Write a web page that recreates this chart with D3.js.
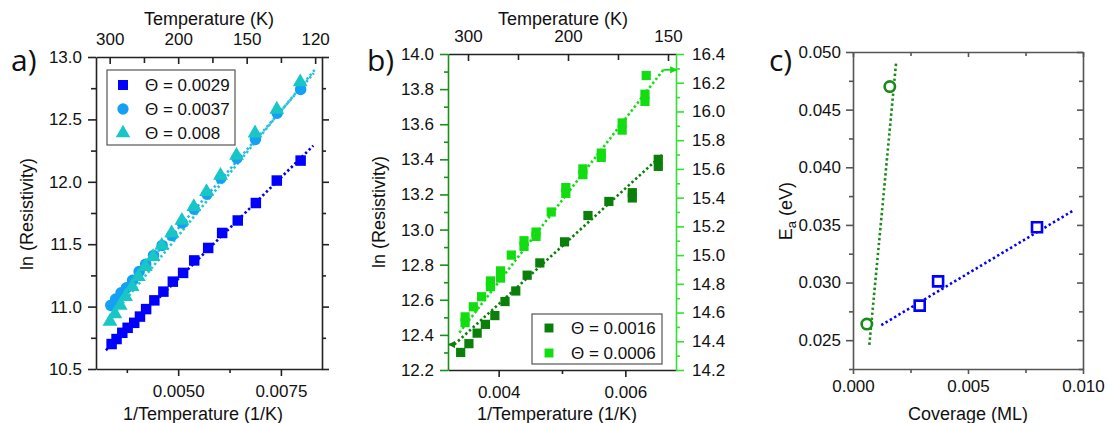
<!DOCTYPE html>
<html>
<head>
<meta charset="utf-8">
<script src="https://cdn.jsdelivr.net/npm/d3@7"></script>
<style>
  body { margin: 0; background: #fff; }
  svg { display: block; }
</style>
</head>
<body>
<svg id="fig" width="1108" height="423"></svg>
<script>
// ---------- panel a: ln(resistivity) vs 1/T ----------
const aBlueX = [0.00338, 0.00350, 0.00364, 0.00377, 0.00393, 0.00407, 0.00422, 0.00442, 0.00464, 0.00487, 0.00512, 0.00539, 0.00573, 0.00607, 0.00645, 0.00689, 0.00740, 0.00798];
const aBlueY = [10.70, 10.74, 10.79, 10.83, 10.87, 10.92, 10.98, 11.05, 11.12, 11.20, 11.27, 11.37, 11.47, 11.59, 11.69, 11.83, 12.01, 12.17];
const aCircX = [0.00336, 0.00348, 0.00361, 0.00374, 0.00389, 0.00405, 0.00421, 0.00440, 0.00461, 0.00485, 0.00510, 0.00539, 0.00570, 0.00604, 0.00643, 0.00688, 0.00741, 0.00798];
const aCircY = [11.01, 11.06, 11.11, 11.15, 11.21, 11.28, 11.34, 11.41, 11.49, 11.57, 11.67, 11.78, 11.90, 12.03, 12.19, 12.34, 12.55, 12.74];
const aTriX = [0.00334, 0.00346, 0.00359, 0.00372, 0.00388, 0.00403, 0.00420, 0.00439, 0.00460, 0.00484, 0.00509, 0.00538, 0.00569, 0.00603, 0.00642, 0.00687, 0.00740, 0.00797];
const aTriY = [10.88, 10.94, 11.01, 11.08, 11.16, 11.24, 11.32, 11.40, 11.49, 11.59, 11.69, 11.80, 11.92, 12.05, 12.21, 12.39, 12.58, 12.80];
// linear fits (end points)
const aFitBlueX = [0.00324, 0.00829], aFitBlueY = [10.65, 12.29];
const aFitCircX = [0.00331, 0.00830], aFitCircY = [10.99, 12.87];
const aFitTriX = [0.00326, 0.00833], aFitTriY = [10.87, 12.90];
const aLegend = ["Θ = 0.0029", "Θ = 0.0037", "Θ = 0.008"];
const aTempTicks = [300, 200, 150, 120];
const aXTicks = [0.005, 0.0075];
const aYTicks = [10.5, 11.0, 11.5, 12.0, 12.5, 13.0];

// ---------- panel b ----------
const bDarkX = [0.00340, 0.00353, 0.00366, 0.00379, 0.00394, 0.00410, 0.00427, 0.00445, 0.00465, 0.00504, 0.00541, 0.00574, 0.00611, 0.00611, 0.00652, 0.00652];
const bDarkY = [12.30, 12.35, 12.41, 12.46, 12.51, 12.59, 12.65, 12.74, 12.81, 12.93, 13.08, 13.16, 13.21, 13.18, 13.40, 13.36];
// light green series is read on the right axis
const bLightX = [0.00347, 0.00347, 0.00360, 0.00373, 0.00387, 0.00387, 0.00403, 0.00403, 0.00420, 0.00440, 0.00440, 0.00459, 0.00459, 0.00483, 0.00506, 0.00506, 0.00533, 0.00533, 0.00562, 0.00562, 0.00595, 0.00595, 0.00631, 0.00631, 0.00633];
const bLightY = [14.57, 14.53, 14.64, 14.71, 14.82, 14.78, 14.89, 14.84, 15.00, 15.06, 15.10, 15.16, 15.13, 15.30, 15.47, 15.43, 15.60, 15.56, 15.71, 15.68, 15.92, 15.87, 16.12, 16.07, 16.25];
const bFitDarkX = [0.00330, 0.00658], bFitDarkY = [12.345, 13.425];
const bFitLightX = [0.00338, 0.00660], bFitLightY = [14.46, 16.29];
const bLegend = ["Θ = 0.0016", "Θ = 0.0006"];
const bTempTicks = [300, 200, 150];
const bXTicks = [0.004, 0.006];
const bYTicks = [12.2, 12.4, 12.6, 12.8, 13.0, 13.2, 13.4, 13.6, 13.8, 14.0];
const bY2Ticks = [14.2, 14.4, 14.6, 14.8, 15.0, 15.2, 15.4, 15.6, 15.8, 16.0, 16.2, 16.4];

// ---------- panel c: activation energy vs coverage ----------
const cGreenX = [0.0006, 0.0016], cGreenY = [0.0264, 0.0470];
const cBlueX = [0.0029, 0.0037, 0.0080], cBlueY = [0.0280, 0.0301, 0.0348];
const cFitGreenX = [0.00071, 0.00187], cFitGreenY = [0.0246, 0.0490];
const cFitBlueX = [0.00123, 0.00954], cFitBlueY = [0.0263, 0.0362];
const cXTicks = [0, 0.005, 0.010];
const cYTicks = [0.025, 0.030, 0.035, 0.040, 0.045, 0.050];

const FONT = "'Liberation Sans', Arial, sans-serif";
const svg = d3.select("#fig");

const mids = arr => arr.slice(1).map((v, i) => (v + arr[i]) / 2);
const zip = (xs, ys) => xs.map((x, i) => [x, ys[i]]);

// style an axis group after d3 draws it
function styleAxis(g, color, fontSize = 17) {
  g.attr("font-family", null).attr("font-size", null);
  g.select(".domain").attr("stroke", color).attr("stroke-width", 1.6);
  g.selectAll(".tick line").attr("stroke", color).attr("stroke-width", 1.6);
  g.selectAll(".tick text").attr("fill", "#111").attr("font-family", FONT).attr("font-size", fontSize);
  return g;
}
function addAxis(gen, tx, ty, color = "#222") {
  return styleAxis(svg.append("g").attr("transform", `translate(${tx},${ty})`).call(gen), color);
}
function minorAxis(gen, tx, ty, color = "#222") {
  const g = addAxis(gen.tickFormat(""), tx, ty, color);
  g.select(".domain").remove();
  return g;
}
function label(txt, x, y, opts = {}) {
  const t = svg.append("text")
    .attr("x", x).attr("y", y)
    .attr("font-family", opts.family || FONT)
    .attr("font-size", opts.size || 18)
    .attr("text-anchor", opts.anchor || "middle")
    .attr("fill", "#111")
    .text(txt);
  if (opts.rotate) t.attr("transform", `rotate(-90,${x},${y})`);
  return t;
}
function dotted(xs, ys, x, y, color, w = 2.6) {
  svg.append("path")
    .datum(zip(xs, ys))
    .attr("d", d3.line().x(d => x(d[0])).y(d => y(d[1])))
    .attr("fill", "none").attr("stroke", color)
    .attr("stroke-width", w).attr("stroke-dasharray", "2.4 2.6");
}
function marks(xs, ys, x, y, type, size, fill, stroke = "none", sw = 0) {
  svg.append("g").selectAll("path")
    .data(zip(xs, ys))
    .join("path")
    .attr("transform", d => `translate(${x(d[0])},${y(d[1])})`)
    .attr("d", d3.symbol(type, size))
    .attr("fill", fill).attr("stroke", stroke).attr("stroke-width", sw);
}

// ================= panel a =================
{
  const x = d3.scaleLinear([0.003, 0.0085], [96, 322]);
  const y = d3.scaleLinear([10.5, 13.0], [369, 57]);
  const fmt1 = d3.format(".1f");

  addAxis(d3.axisBottom(x).tickValues(aXTicks).tickFormat(d3.format(".4f")).tickSize(7).tickPadding(9).tickSizeOuter(0), 0, 369);
  minorAxis(d3.axisBottom(x).tickValues(mids([0.0025, ...aXTicks])).tickSize(4), 0, 369);
  addAxis(d3.axisTop(x).tickValues(aTempTicks.map(t => 1 / t)).tickFormat((d, i) => aTempTicks[i]).tickSize(-7).tickPadding(12).tickSizeOuter(0), 0, 57);
  minorAxis(d3.axisTop(x).tickValues(mids(aTempTicks.map(t => 1 / t))).tickSize(-6), 0, 57);
  addAxis(d3.axisLeft(y).tickValues(aYTicks).tickFormat(fmt1).tickSize(8).tickPadding(6).tickSizeOuter(0), 96, 0);
  minorAxis(d3.axisLeft(y).tickValues(mids(aYTicks)).tickSize(5), 96, 0);
  addAxis(d3.axisRight(y).tickValues(aYTicks).tickFormat("").tickSize(7).tickSizeOuter(0), 322, 0);
  minorAxis(d3.axisRight(y).tickValues(mids(aYTicks)).tickSize(4), 322, 0);

  dotted(aFitBlueX, aFitBlueY, x, y, "#0000ee");
  dotted(aFitCircX, aFitCircY, x, y, "#2fb4f4");
  dotted(aFitTriX, aFitTriY, x, y, "#1ccccc");
  marks(aBlueX, aBlueY, x, y, d3.symbolSquare, 110, "#0000ff");
  marks(aCircX, aCircY, x, y, d3.symbolCircle, 105, "#14a0f5");
  marks(aTriX, aTriY, x, y, d3.symbolTriangle, 95, "#19c6c6");

  // legend
  svg.append("rect").attr("x", 107).attr("y", 70).attr("width", 128).attr("height", 75)
    .attr("fill", "#fff").attr("stroke", "#555").attr("stroke-width", 1.2);
  const lg = [[d3.symbolSquare, 100, "#0000ff"], [d3.symbolCircle, 100, "#14a0f5"], [d3.symbolTriangle, 90, "#19c6c6"]];
  lg.forEach(([type, size, col], i) => {
    const ly = 85 + i * 24;
    svg.append("path").attr("transform", `translate(123,${ly})`).attr("d", d3.symbol(type, size)).attr("fill", col);
    label(aLegend[i], 145, ly + 6, { anchor: "start", size: 17 });
  });

  label("Temperature (K)", 209, 25);
  label("1/Temperature (1/K)", 203, 420);
  label("ln (Resistivity)", 33, 214, { rotate: true });
  label("a)", 11, 71, { anchor: "start", size: 30, family: "'Open Sans', sans-serif" });
}

// ================= panel b =================
{
  const x = d3.scaleLinear([0.0032, 0.0068], [448, 676]);
  const xTop = d3.scaleLinear([0.003, 0.0068], [448, 676]);
  const y = d3.scaleLinear([12.2, 14.0], [370, 54]);
  const y2 = d3.scaleLinear([14.2, 16.4], [370, 54]);
  const dark = "#0a7f0a", light = "#11dd11";
  const axDark = "#1b8f1b", axLight = "#33e033";
  const fmt1 = d3.format(".1f");

  addAxis(d3.axisBottom(x).tickValues(bXTicks).tickFormat(d3.format(".3f")).tickSize(7).tickPadding(9).tickSizeOuter(0), 0, 370);
  minorAxis(d3.axisBottom(x).tickValues([0.005]).tickSize(4), 0, 370);
  addAxis(d3.axisTop(xTop).tickValues(bTempTicks.map(t => 1 / t)).tickFormat((d, i) => bTempTicks[i]).tickSize(-7).tickPadding(12).tickSizeOuter(0), 0, 54);
  minorAxis(d3.axisTop(xTop).tickValues(mids(bTempTicks.map(t => 1 / t))).tickSize(-6), 0, 54);
  addAxis(d3.axisLeft(y).tickValues(bYTicks).tickFormat(fmt1).tickSize(8).tickPadding(6).tickSizeOuter(0), 448, 0, axDark);
  minorAxis(d3.axisLeft(y).tickValues(mids(bYTicks)).tickSize(4), 448, 0, axDark);
  addAxis(d3.axisRight(y2).tickValues(bY2Ticks).tickFormat(fmt1).tickSize(8).tickPadding(8).tickSizeOuter(0), 676, 0, axLight);
  minorAxis(d3.axisRight(y2).tickValues(mids(bY2Ticks)).tickSize(4), 676, 0, axLight);

  dotted(bFitDarkX, bFitDarkY, x, y, dark);
  dotted(bFitLightX, bFitLightY, x, y2, light);

  // arrows telling which axis each series belongs to
  const defs = svg.append("defs");
  [["arDark", dark], ["arLight", light]].forEach(([id, col]) => {
    defs.append("marker").attr("id", id).attr("viewBox", "0 0 10 10")
      .attr("refX", 9).attr("refY", 5).attr("markerWidth", 4).attr("markerHeight", 4)
      .attr("orient", "auto")
      .append("path").attr("d", "M0,0L10,5L0,10z").attr("fill", col);
  });
  svg.append("line")
    .attr("x1", x(bFitDarkX[0])).attr("y1", y(bFitDarkY[0]))
    .attr("x2", x(0.00321)).attr("y2", y(bFitDarkY[0]))
    .attr("stroke", dark).attr("stroke-width", 1.8).attr("marker-end", "url(#arDark)");
  svg.append("line")
    .attr("x1", x(bFitLightX[1])).attr("y1", y2(bFitLightY[1]))
    .attr("x2", x(0.00681)).attr("y2", y2(bFitLightY[1]))
    .attr("stroke", light).attr("stroke-width", 1.8).attr("marker-end", "url(#arLight)");

  marks(bDarkX, bDarkY, x, y, d3.symbolSquare, 85, dark);
  marks(bLightX, bLightY, x, y2, d3.symbolSquare, 85, light);

  svg.append("rect").attr("x", 532).attr("y", 314).attr("width", 130).attr("height", 50)
    .attr("fill", "#fff").attr("stroke", "#555").attr("stroke-width", 1.2);
  [dark, light].forEach((col, i) => {
    const ly = 328 + i * 25;
    svg.append("path").attr("transform", `translate(549,${ly})`).attr("d", d3.symbol(d3.symbolSquare, 80)).attr("fill", col);
    label(bLegend[i], 571, ly + 6, { anchor: "start", size: 17 });
  });

  label("Temperature (K)", 563, 25);
  label("1/Temperature (1/K)", 557, 420);
  label("ln (Resistivity)", 385, 212, { rotate: true });
  label("b)", 367, 71, { anchor: "start", size: 30, family: "'Open Sans', sans-serif" });
}

// ================= panel c =================
{
  const x = d3.scaleLinear([0, 0.010], [853, 1083]);
  const y = d3.scaleLinear([0.0225, 0.050], [369, 52]);
  const frame = "#555";
  const fmt3 = d3.format(".3f");

  addAxis(d3.axisBottom(x).tickValues(cXTicks).tickFormat(fmt3).tickSize(5).tickPadding(6).tickSizeOuter(0), 0, 369, frame);
  minorAxis(d3.axisBottom(x).tickValues(mids(cXTicks)).tickSize(4), 0, 369, frame);
  addAxis(d3.axisTop(x).tickValues(cXTicks).tickFormat("").tickSize(-5).tickSizeOuter(0), 0, 52, frame);
  minorAxis(d3.axisTop(x).tickValues(mids(cXTicks)).tickSize(-4), 0, 52, frame);
  addAxis(d3.axisLeft(y).tickValues(cYTicks).tickFormat(fmt3).tickSize(7).tickPadding(5).tickSizeOuter(0), 853, 0, frame);
  minorAxis(d3.axisLeft(y).tickValues(mids([0.020, ...cYTicks])).tickSize(4), 853, 0, frame);
  addAxis(d3.axisRight(y).tickValues(cYTicks).tickFormat("").tickSize(-6).tickSizeOuter(0), 1083, 0, frame);
  minorAxis(d3.axisRight(y).tickValues(mids([0.020, ...cYTicks])).tickSize(-4), 1083, 0, frame);

  dotted(cFitGreenX, cFitGreenY, x, y, "#178a17");
  dotted(cFitBlueX, cFitBlueY, x, y, "#0000ff");
  marks(cGreenX, cGreenY, x, y, d3.symbolCircle, 85, "#fff", "#178a17", 2.6);
  marks(cBlueX, cBlueY, x, y, d3.symbolSquare, 100, "#fff", "#0000ff", 2.6);

  label("Coverage (ML)", 968, 420);
  const yl = label("", 792, 211, { rotate: true });
  yl.append("tspan").text("E");
  yl.append("tspan").attr("font-size", 13).attr("dy", 4).text("a");
  yl.append("tspan").attr("dy", -4).text(" (eV)");
  label("c)", 769, 71, { anchor: "start", size: 30, family: "'Open Sans', sans-serif" });
}
</script>
</body>
</html>
